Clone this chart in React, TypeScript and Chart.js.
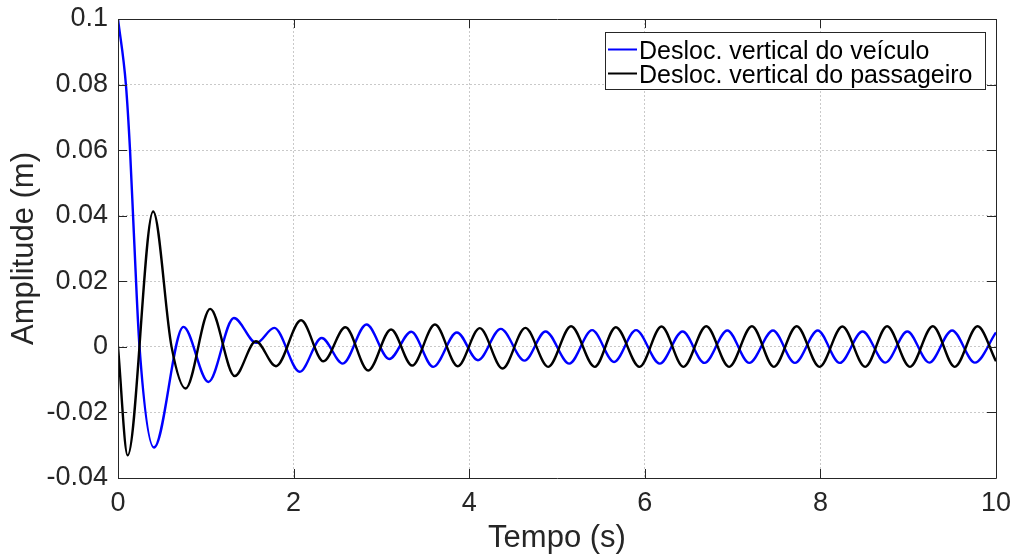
import React, { useEffect, useRef } from 'react';
import { Chart, registerables } from 'chart.js';

Chart.register(...registerables);

// ---- data ----
const xTickValues = [0, 2, 4, 6, 8, 10];
const yTickValues = [-0.04, -0.02, 0, 0.02, 0.04, 0.06, 0.08, 0.1];
const xTitle = 'Tempo (s)';
const yTitle = 'Amplitude (m)';
const seriesLabels = ['Desloc. vertical do veículo', 'Desloc. vertical do passageiro'];
const seriesColors = ['#0000ff', '#000000'];

const vehicleT = [
  0, 0.09, 0.137, 0.18, 0.245, 0.41, 0.745, 1.03, 1.32, 1.575, 1.78, 2.07, 2.32, 2.56,
  2.83, 3.09, 3.34, 3.59, 3.86, 4.10, 4.36, 4.63, 4.87, 5.14, 5.40, 5.65, 5.90, 6.17,
  6.43, 6.68, 6.94, 7.19, 7.46, 7.71, 7.97, 8.22, 8.48, 8.74, 8.99, 9.24, 9.50, 9.76, 10.0,
];
const vehicleY = [
  0.1, 0.08, 0.06, 0.035, 0.0, -0.0307, 0.0061, -0.0107, 0.0088, 0.0012, 0.0058, -0.0076, 0.0027, -0.0051,
  0.0068, -0.0037, 0.0046, -0.0061, 0.0044, -0.0041, 0.0055, -0.0042, 0.0047, -0.0051, 0.0051, -0.0046, 0.0051, -0.0051,
  0.0047, -0.0049, 0.0050, -0.0049, 0.0050, -0.0049, 0.0050, -0.0049, 0.0047, -0.0048, 0.0047, -0.0048, 0.0050, -0.0048, 0.0044,
];

const passengerT = [
  0, 0.11, 0.40, 0.61, 0.77, 1.05, 1.33, 1.57, 1.80, 2.085, 2.34, 2.59,
  2.85, 3.11, 3.35, 3.61, 3.87, 4.12, 4.38, 4.64, 4.90, 5.16, 5.43, 5.67, 5.94,
  6.19, 6.44, 6.70, 6.96, 7.22, 7.47, 7.73, 7.99, 8.25, 8.51, 8.76, 9.02, 9.28, 9.53, 9.79, 10.0,
];
const passengerY = [
  0, -0.0331, 0.0413, 0.0, -0.0127, 0.0116, -0.0089, 0.0017, -0.0059, 0.0081, -0.0044, 0.0060,
  -0.0072, 0.0053, -0.0057, 0.0068, -0.0059, 0.0057, -0.0066, 0.0058, -0.0061, 0.0063, -0.0061, 0.0060, -0.0061,
  0.0062, -0.0061, 0.0063, -0.0061, 0.0063, -0.0061, 0.0063, -0.0061, 0.0062, -0.0061, 0.0063, -0.0061, 0.0063, -0.0061, 0.0063, -0.0044,
];

const FONT = '"Liberation Sans", Arial, Helvetica, sans-serif';
const AXIS_COLOR = '#262626';

const toPoints = (t: number[], y: number[]) => t.map((v, i) => ({ x: v, y: y[i] }));

const fmt = (v: number) => String(Math.round(v * 100) / 100);

const boxPlugin = {
  id: 'matlabBox',
  afterDatasetsDraw(chart: any) {
    const { ctx, chartArea } = chart;
    const { left, right, top, bottom } = chartArea;
    const xs = chart.scales.x;
    const ys = chart.scales.y;
    const tl = 9;
    ctx.save();
    ctx.strokeStyle = AXIS_COLOR;
    ctx.lineWidth = 1;
    ctx.setLineDash([]);
    ctx.beginPath();
    ctx.rect(Math.round(left) + 0.5, Math.round(top) + 0.5, Math.round(right - left), Math.round(bottom - top));
    ctx.stroke();
    ctx.beginPath();
    xTickValues.forEach((v) => {
      const px = Math.round(xs.getPixelForValue(v)) + 0.5;
      ctx.moveTo(px, bottom);
      ctx.lineTo(px, bottom - tl);
      ctx.moveTo(px, top);
      ctx.lineTo(px, top + tl);
    });
    yTickValues.forEach((v) => {
      const py = Math.round(ys.getPixelForValue(v)) + 0.5;
      ctx.moveTo(left, py);
      ctx.lineTo(left + tl, py);
      ctx.moveTo(right, py);
      ctx.lineTo(right - tl, py);
    });
    ctx.stroke();
    ctx.restore();
  },
  afterDraw(chart: any) {
    const { ctx } = chart;
    const boxL = 605.5, boxT = 32.5, boxR = 985.5, boxB = 89.5;
    ctx.save();
    ctx.fillStyle = '#ffffff';
    ctx.fillRect(boxL, boxT, boxR - boxL, boxB - boxT);
    ctx.strokeStyle = AXIS_COLOR;
    ctx.lineWidth = 1;
    ctx.strokeRect(boxL, boxT, boxR - boxL, boxB - boxT);
    const rowsLine = [49.5, 73.5];
    const rowsText = [58.5, 82.5];
    ctx.font = `25px ${FONT}`;
    ctx.textBaseline = 'alphabetic';
    ctx.textAlign = 'left';
    chart.data.datasets.forEach((ds: any, i: number) => {
      ctx.strokeStyle = ds.borderColor;
      ctx.lineWidth = 2;
      ctx.beginPath();
      ctx.moveTo(608, rowsLine[i]);
      ctx.lineTo(637, rowsLine[i]);
      ctx.stroke();
      ctx.fillStyle = '#000000';
      ctx.fillText(ds.label, 639, rowsText[i]);
    });
    ctx.restore();
  },
};

export default function App() {
  const canvasRef = useRef<HTMLCanvasElement | null>(null);

  useEffect(() => {
    const canvas = canvasRef.current;
    if (!canvas) return;
    const chart = new Chart(canvas, {
      type: 'line',
      data: {
        datasets: [
          {
            label: seriesLabels[0],
            data: toPoints(vehicleT, vehicleY),
            borderColor: seriesColors[0],
            borderWidth: 2.4,
            pointRadius: 0,
            cubicInterpolationMode: 'monotone',
            fill: false,
            order: 1,
          },
          {
            label: seriesLabels[1],
            data: toPoints(passengerT, passengerY),
            borderColor: seriesColors[1],
            borderWidth: 2.4,
            pointRadius: 0,
            cubicInterpolationMode: 'monotone',
            fill: false,
            order: 0,
          },
        ],
      },
      options: {
        responsive: false,
        animation: false,
        events: [],
        layout: { padding: { top: 19, right: 20, left: 0, bottom: 0 } },
        plugins: {
          legend: { display: false },
          tooltip: { enabled: false },
          title: { display: false },
        },
        scales: {
          x: {
            type: 'linear',
            min: 0,
            max: 10,
            afterBuildTicks: (s: any) => {
              s.ticks = xTickValues.map((v) => ({ value: v }));
            },
            afterFit: (s: any) => {
              s.height = 82;
              s.paddingLeft = 0;
              s.paddingRight = 0;
            },
            ticks: {
              color: AXIS_COLOR,
              font: { family: FONT, size: 27 },
              padding: 9,
              maxRotation: 0,
              autoSkip: false,
              callback: (v: any) => fmt(Number(v)),
            },
            grid: { color: 'rgba(38,38,38,0.25)', lineWidth: 1, drawTicks: false },
            border: { display: false, dash: [2, 2] },
            title: {
              display: true,
              text: xTitle,
              color: AXIS_COLOR,
              font: { family: FONT, size: 31, lineHeight: 1.2 },
              padding: { top: 0, bottom: 3 },
            },
          },
          y: {
            type: 'linear',
            min: -0.04,
            max: 0.1,
            afterBuildTicks: (s: any) => {
              s.ticks = yTickValues.map((v) => ({ value: v }));
            },
            afterFit: (s: any) => {
              s.width = 118;
              s.paddingTop = 0;
              s.paddingBottom = 0;
            },
            ticks: {
              color: AXIS_COLOR,
              font: { family: FONT, size: 27 },
              padding: 10,
              autoSkip: false,
              callback: (v: any) => fmt(Number(v)),
            },
            grid: { color: 'rgba(38,38,38,0.25)', lineWidth: 1, drawTicks: false },
            border: { display: false, dash: [2, 2] },
            title: {
              display: true,
              text: yTitle,
              color: AXIS_COLOR,
              font: { family: FONT, size: 31, lineHeight: 1.2 },
              padding: { top: 6, bottom: 0 },
            },
          },
        },
      },
      plugins: [boxPlugin],
    } as any);
    return () => chart.destroy();
  }, []);

  return (
    <div style={{ position: 'fixed', left: 0, top: 0, width: 1016, height: 560, background: '#ffffff' }}>
      <canvas ref={canvasRef} width={1016} height={560} style={{ display: 'block' }} />
    </div>
  );
}
